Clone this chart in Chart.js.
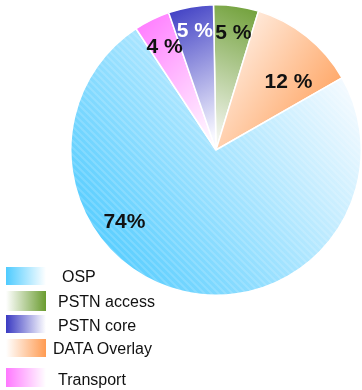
<!DOCTYPE html>
<html>
<head>
<meta charset="utf-8">
<script src="https://cdn.jsdelivr.net/npm/chart.js@4/dist/chart.umd.min.js"></script>
<style>
  html, body { margin: 0; padding: 0; background: #fff; overflow: hidden; }
  #wrap { position: relative; width: 362px; height: 390px; }
  #pie { position: absolute; left: 0; top: 0; }
  .key { position: absolute; left: 6px; width: 40px; }
  .key-text { position: absolute; font: 16px "Liberation Sans", Arial, sans-serif; color: #111; line-height: 18px; white-space: pre; }
</style>
</head>
<body>
<div id="wrap">
  <canvas id="pie" width="362" height="390"></canvas>
</div>
<script>
// slices, clockwise from 12 o'clock
const sliceLabels = ['PSTN access', 'DATA Overlay', 'OSP', 'Transport', 'PSTN core'];
const shares = [5, 12, 74, 4, 5];
const shareText = ['5 %', '12 %', '74%', '4 %', '5 %'];

// legend entries, top to bottom
const legendLabels = ['OSP', 'PSTN access', 'PSTN core', 'DATA Overlay', 'Transport'];

// gradient per slice: endpoints in units of the radius, measured from the centre
const sliceStyle = {
    'OSP':          { from: [-0.85, 0.8],  to: [0.95, -0.45], c0: '#4ecbff', c1: '#f7fbff', text: '#111' },
    'PSTN access':  { from: [0.38, -0.98], to: [-0.02, -0.1], c0: '#6a9c30', c1: '#f3f5ef', text: '#111' },
    'PSTN core':    { from: [-0.4, -0.95], to: [0.03, -0.12], c0: '#3a3ac2', c1: '#f8f8ff', text: '#fff' },
    'Transport':    { from: [-0.72, -0.72], to: [-0.05, -0.08], c0: '#ff78ff', c1: '#fff6ff', text: '#111' },
    'DATA Overlay': { from: [0.05, -0.92], to: [0.96, -0.32], c0: '#fff7f2', c1: '#ff9b52', text: '#111' }
};

// where each value sits: fraction along the arc, fraction of the radius
const labelSpot = {
    'OSP':          [0.645, 0.8],
    'DATA Overlay': [0.68, 0.69],
    'PSTN access':  [0.52, 0.82],
    'PSTN core':    [0.5, 0.84],
    'Transport':    [0.5, 0.8]
};

// legend rows: swatch top/height, text x and centre y
const legendRows = [
    { top: 267, h: 18, tx: 62, ty: 277 },
    { top: 291, h: 20, tx: 58, ty: 302 },
    { top: 315, h: 18, tx: 58, ty: 326 },
    { top: 339, h: 18, tx: 53, ty: 349 },
    { top: 368, h: 19, tx: 58, ty: 380 }
];

const sliceFill = (ctx) => {
    const chart = ctx.chart;
    const st = sliceStyle[sliceLabels[ctx.dataIndex]];
    const area = chart.chartArea;
    if (!area) return st.c0;
    const cx = (area.left + area.right) / 2;
    const cy = (area.top + area.bottom) / 2;
    const r = Math.min(area.right - area.left, area.bottom - area.top) / 2;
    const g = chart.ctx.createLinearGradient(
        cx + st.from[0] * r, cy + st.from[1] * r,
        cx + st.to[0] * r, cy + st.to[1] * r);
    g.addColorStop(0, st.c0);
    g.addColorStop(1, st.c1);
    return g;
};

// fine diagonal hatching over the big slice
const hatchPlugin = {
    id: 'hatch',
    afterDatasetsDraw(chart) {
        const arc = chart.getDatasetMeta(0).data[sliceLabels.indexOf('OSP')];
        const { x, y, startAngle, endAngle, outerRadius } = arc.getProps(['x', 'y', 'startAngle', 'endAngle', 'outerRadius'], true);
        const c = chart.ctx;
        c.save();
        c.beginPath();
        c.moveTo(x, y);
        c.arc(x, y, outerRadius, startAngle, endAngle);
        c.closePath();
        c.clip();
        c.strokeStyle = 'rgba(255,255,255,0.16)';
        c.lineWidth = 2;
        for (let k = -400; k < 400; k += 7) {
            c.beginPath();
            c.moveTo(x + k - 200, y - 200);
            c.lineTo(x + k + 200, y + 200);
            c.stroke();
        }
        c.restore();
    }
};

const valuePlugin = {
    id: 'values',
    afterDatasetsDraw(chart) {
        const c = chart.ctx;
        const arcs = chart.getDatasetMeta(0).data;
        c.save();
        c.font = 'bold 21px "Liberation Sans", Arial, sans-serif';
        c.textAlign = 'center';
        c.textBaseline = 'middle';
        arcs.forEach((arc, i) => {
            const name = sliceLabels[i];
            const { x, y, startAngle, endAngle, outerRadius } = arc.getProps(['x', 'y', 'startAngle', 'endAngle', 'outerRadius'], true);
            const [fa, fr] = labelSpot[name];
            const a = startAngle + (endAngle - startAngle) * fa;
            c.fillStyle = sliceStyle[name].text;
            c.fillText(shareText[i], x + Math.cos(a) * outerRadius * fr, y + Math.sin(a) * outerRadius * fr + 1);
        });
        c.restore();
    }
};

new Chart(document.getElementById('pie'), {
    type: 'pie',
    data: {
        labels: sliceLabels,
        datasets: [{
            data: shares,
            backgroundColor: sliceFill,
            borderColor: '#fff',
            borderWidth: 1.5
        }]
    },
    options: {
        responsive: false,
        animation: false,
        events: [],
        rotation: -1,
        layout: { padding: { left: 70, right: 0, top: 4, bottom: 94 } },
        plugins: {
            legend: { display: false },
            tooltip: { enabled: false }
        }
    },
    plugins: [hatchPlugin, valuePlugin]
});

// legend with gradient swatches
const wrap = document.getElementById('wrap');
const swatchDir = { 'OSP': 'to right', 'PSTN core': 'to right', 'Transport': 'to right', 'PSTN access': 'to left', 'DATA Overlay': 'to left' };
legendLabels.forEach((name, i) => {
    const row = legendRows[i];
    const st = sliceStyle[name];
    const sw = document.createElement('div');
    sw.className = 'key';
    sw.style.top = row.top + 'px';
    sw.style.height = row.h + 'px';
    const deep = (name === 'DATA Overlay') ? st.c1 : st.c0;
    sw.style.background = `linear-gradient(${swatchDir[name]}, ${deep}, #ffffff)`;
    wrap.appendChild(sw);

    const t = document.createElement('div');
    t.className = 'key-text';
    t.textContent = name;
    t.style.left = row.tx + 'px';
    t.style.top = (row.ty - 9) + 'px';
    wrap.appendChild(t);
});
</script>
</body>
</html>
